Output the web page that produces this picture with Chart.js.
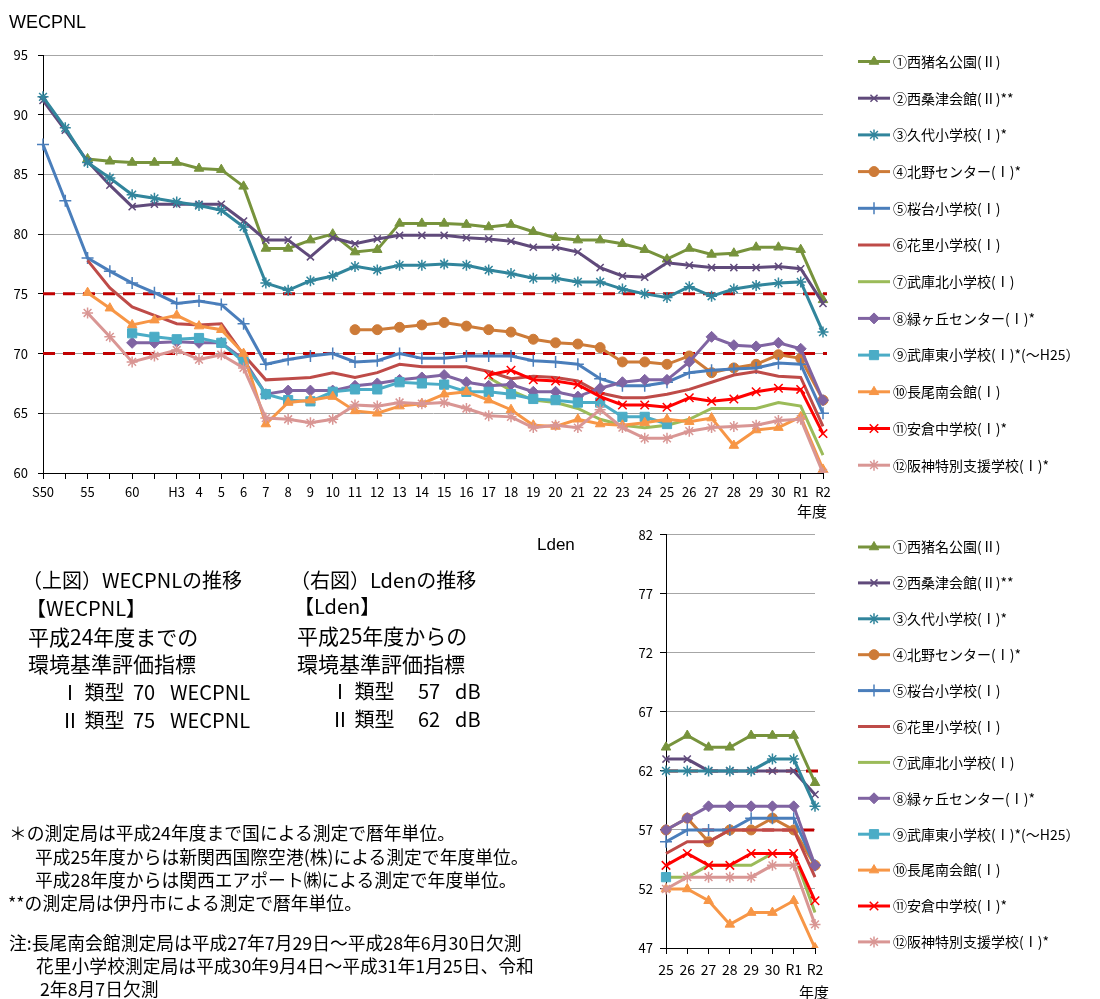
<!DOCTYPE html>
<html>
<head>
<meta charset="utf-8">
<script src="https://cdn.jsdelivr.net/npm/chart.js@4.4.0/dist/chart.umd.min.js"></script>
<style>
  body { margin: 0; background: #fff; }
  #wrap { position: relative; width: 1100px; height: 999px; overflow: hidden; font-family: 'Noto Sans CJK JP', sans-serif; color: #000; }
  canvas { position: absolute; left: 0; }
  .t { position: absolute; white-space: nowrap; line-height: 1; }
  .m { font-size: 20px; }
  .k { font-size: 21px; }
  .n { font-size: 17.8px; }
</style>
</head>
<body>
<div id="wrap">
  <canvas id="wecpnl" width="1100" height="520" style="top:0"></canvas>
  <canvas id="lden" width="1100" height="479" style="top:520px"></canvas>

  <div class="t" style="left:9px;top:13px;font-size:18px;font-family:'Liberation Sans',sans-serif">WECPNL</div>
  <div class="t" style="left:797px;top:503px;font-size:15px">年度</div>
  <div class="t" style="left:537px;top:536px;font-size:17px;font-family:'Liberation Sans',sans-serif">Lden</div>
  <div class="t" style="left:799px;top:984px;font-size:15px">年度</div>

  <div class="t m" style="left:22px;top:570px">（上図）WECPNLの推移</div>
  <div class="t m" style="left:26px;top:598px">【WECPNL】</div>
  <div class="t k" style="left:28px;top:626px">平成24年度までの</div>
  <div class="t k" style="left:28px;top:653px">環境基準評価指標</div>
  <div class="t m" style="left:60px;top:682px">Ⅰ 類型</div>
  <div class="t m" style="left:133px;top:682px">70</div>
  <div class="t m" style="left:170px;top:682px">WECPNL</div>
  <div class="t m" style="left:60px;top:710px">Ⅱ 類型</div>
  <div class="t m" style="left:133px;top:710px">75</div>
  <div class="t m" style="left:170px;top:710px">WECPNL</div>

  <div class="t m" style="left:290px;top:570px">（右図）Ldenの推移</div>
  <div class="t m" style="left:294px;top:596px">【Lden】</div>
  <div class="t k" style="left:297px;top:625px">平成25年度からの</div>
  <div class="t k" style="left:297px;top:653px">環境基準評価指標</div>
  <div class="t m" style="left:330px;top:681px">Ⅰ 類型</div>
  <div class="t m" style="left:418px;top:681px">57</div>
  <div class="t m" style="left:455px;top:681px">dB</div>
  <div class="t m" style="left:330px;top:709px">Ⅱ 類型</div>
  <div class="t m" style="left:418px;top:709px">62</div>
  <div class="t m" style="left:455px;top:709px">dB</div>

  <div class="t n" style="left:9px;top:824px">＊の測定局は平成24年度まで国による測定で暦年単位。</div>
  <div class="t n" style="left:35px;top:848px">平成25年度からは新関西国際空港(株)による測定で年度単位。</div>
  <div class="t n" style="left:35px;top:871px">平成28年度からは関西エアポート㈱による測定で年度単位。</div>
  <div class="t n" style="left:8px;top:894px">**の測定局は伊丹市による測定で暦年単位。</div>
  <div class="t n" style="left:9px;top:934px">注:長尾南会館測定局は平成27年7月29日～平成28年6月30日欠測</div>
  <div class="t n" style="left:36px;top:957px">花里小学校測定局は平成30年9月4日～平成31年1月25日、令和</div>
  <div class="t n" style="left:40px;top:980px">2年8月7日欠測</div>
</div>

<script>
const FONT = "'Noto Sans CJK JP', sans-serif"

const stations = [
  '①西猪名公園(Ⅱ)', '②西桑津会館(Ⅱ)**', '③久代小学校(Ⅰ)*', '④北野センター(Ⅰ)*',
  '⑤桜台小学校(Ⅰ)', '⑥花里小学校(Ⅰ)', '⑦武庫北小学校(Ⅰ)', '⑧緑ヶ丘センター(Ⅰ)*',
  '⑨武庫東小学校(Ⅰ)*(～H25）', '⑩長尾南会館(Ⅰ)', '⑪安倉中学校(Ⅰ)*', '⑫阪神特別支援学校(Ⅰ)*'
]

// WECPNL (S50 - R2)
const wYears = ['S50', '', '55', '', '60', '', 'H3', '4', '5', '6', '7', '8', '9', '10', '11', '12',
  '13', '14', '15', '16', '17', '18', '19', '20', '21', '22', '23', '24', '25', '26', '27', '28',
  '29', '30', 'R1', 'R2']
const _ = null
const w1 = [_, _, 86.3, 86.1, 86.0, 86.0, 86.0, 85.5, 85.4, 84.0, 78.8, 78.8, 79.5, 80.0, 78.5, 78.7, 80.9, 80.9, 80.9, 80.8, 80.6, 80.8, 80.2, 79.7, 79.5, 79.5, 79.2, 78.7, 77.9, 78.8, 78.3, 78.4, 78.9, 78.9, 78.7, 74.5]
const w2 = [91.2, 88.7, 86.1, 84.1, 82.3, 82.5, 82.5, 82.5, 82.5, 81.1, 79.5, 79.5, 78.1, 79.7, 79.2, 79.6, 79.9, 79.9, 79.9, 79.7, 79.6, 79.4, 78.9, 78.9, 78.5, 77.2, 76.5, 76.4, 77.6, 77.4, 77.2, 77.2, 77.2, 77.3, 77.1, 74.2]
const w3 = [91.5, 88.9, 86.0, 84.7, 83.3, 83.0, 82.7, 82.4, 82.0, 80.6, 75.9, 75.3, 76.1, 76.5, 77.3, 77.0, 77.4, 77.4, 77.5, 77.4, 77.0, 76.7, 76.3, 76.3, 76.0, 76.0, 75.4, 75.0, 74.7, 75.6, 74.8, 75.4, 75.7, 75.9, 76.0, 71.8]
const w4 = [_, _, _, _, _, _, _, _, _, _, _, _, _, _, 72.0, 72.0, 72.2, 72.4, 72.6, 72.3, 72.0, 71.8, 71.2, 70.9, 70.8, 70.5, 69.3, 69.3, 69.1, 69.8, 68.4, 68.8, 69.1, 69.9, 69.6, 66.1]
const w5 = [87.5, 82.8, 78.0, 76.9, 75.9, 75.1, 74.2, 74.4, 74.1, 72.5, 69.1, 69.5, 69.8, 70.0, 69.3, 69.4, 70.0, 69.6, 69.6, 69.8, 69.8, 69.8, 69.4, 69.3, 69.1, 67.9, 67.3, 67.3, 67.6, 68.4, 68.6, 68.7, 68.8, 69.2, 69.1, 65.0]
const w6 = [_, _, 77.8, 75.5, 73.9, 73.2, 72.5, 72.4, 72.5, 69.9, 67.8, 67.9, 68.0, 68.4, 68.0, 68.4, 69.1, 68.9, 68.9, 68.9, 68.5, 67.9, 68.1, 68.0, 67.7, 66.7, 66.3, 66.3, 66.6, 67.0, 67.6, 68.2, 68.5, 68.1, 68.0, 63.9]
const w7 = [_, _, _, _, _, _, _, _, _, _, _, _, _, _, _, _, _, _, _, _, 68.0, 66.9, 66.1, 65.9, 65.4, 64.5, 64.0, 63.8, 64.0, 64.5, 65.4, 65.4, 65.4, 65.9, 65.6, 61.5]
const w8 = [_, _, _, _, 70.9, 70.9, 71.0, 70.9, 70.9, 69.5, 66.6, 66.9, 66.9, 66.9, 67.3, 67.5, 67.8, 68.0, 68.2, 67.6, 67.3, 67.4, 66.8, 66.8, 66.4, 67.1, 67.6, 67.8, 67.8, 69.3, 71.4, 70.7, 70.6, 70.9, 70.4, 66.1]
const w9 = [_, _, _, _, 71.7, 71.4, 71.2, 71.3, 70.9, 69.3, 66.6, 66.1, 66.0, 66.8, 67.0, 67.0, 67.6, 67.5, 67.4, 66.8, 66.8, 66.6, 66.2, 66.1, 65.9, 65.9, 64.7, 64.7, 64.1, _, _, _, _, _, _, _]
const w10 = [_, _, 75.1, 73.8, 72.4, 72.8, 73.2, 72.3, 72.0, 70.0, 64.1, 65.9, 66.1, 66.4, 65.2, 65.0, 65.6, 65.8, 66.6, 66.8, 66.1, 65.3, 64.0, 63.9, 64.5, 64.1, 64.0, 64.2, 64.5, 64.3, 64.6, 62.3, 63.6, 63.8, 64.7, 60.3]
const w11 = [_, _, _, _, _, _, _, _, _, _, _, _, _, _, _, _, _, _, _, _, 68.2, 68.6, 67.8, 67.7, 67.4, 66.4, 65.7, 65.7, 65.5, 66.3, 66.0, 66.2, 66.8, 67.1, 67.0, 63.3]
const w12 = [_, _, 73.4, 71.4, 69.3, 69.8, 70.3, 69.5, 69.9, 68.8, 64.6, 64.5, 64.2, 64.5, 65.7, 65.6, 65.9, 65.8, 65.9, 65.4, 64.8, 64.7, 63.8, 64.0, 63.8, 65.3, 63.8, 62.9, 62.9, 63.5, 63.8, 63.9, 64.0, 64.4, 64.5, 60.0]
const wTicks = { min: 60, max: 95, step: 5 }
const wLimits = [75, 70]

// Lden (H25 - R2)
const lYears = ['25', '26', '27', '28', '29', '30', 'R1', 'R2']
const l1 = [64, 65, 64, 64, 65, 65, 65, 61]
const l2 = [63, 63, 62, 62, 62, 62, 62, 60]
const l3 = [62, 62, 62, 62, 62, 63, 63, 59]
const l4 = [57, 58, 56, 57, 57, 58, 57, 54]
const l5 = [56, 57, 57, 57, 58, 58, 58, 54]
const l6 = [55, 56, 56, 57, 57, 57, 57, 53]
const l7 = [53, 53, 54, 54, 54, 55, 55, 50]
const l8 = [57, 58, 59, 59, 59, 59, 59, 54]
const l9 = [53, _, _, _, _, _, _, _]
const l10 = [52, 52, 51, 49, 50, 50, 51, 47]
const l11 = [54, 55, 54, 54, 55, 55, 55, 51]
const l12 = [52, 53, 53, 53, 53, 54, 54, 49]
const lTicks = { min: 47, max: 82, step: 5 }
const lLimits = [62, 57]

// look of each station line
const looks = [
  { color: '#77933C', point: 'triangle', r: 5.5 },
  { color: '#604A7B', point: 'crossRot', r: 5 },
  { color: '#31859C', point: 'star', r: 5.5 },
  { color: '#CD7B38', point: 'circle', r: 5 },
  { color: '#4A7EBB', point: 'cross', r: 6 },
  { color: '#BE4B48', point: false, r: 0 },
  { color: '#9BBB59', point: false, r: 0 },
  { color: '#8064A2', point: 'rectRot', r: 5.5 },
  { color: '#4BACC6', point: 'rect', r: 6.5 },
  { color: '#F79646', point: 'triangle', r: 5.5 },
  { color: '#FF0000', point: 'crossRot', r: 6 },
  { color: '#D99694', point: 'star', r: 5.5 }
]

function makeDatasets(series) {
  return series.map((data, i) => {
    const lk = looks[i]
    const lineish = ['cross', 'crossRot', 'star'].includes(lk.point)
    return {
      label: stations[i],
      data: data,
      borderColor: lk.color,
      backgroundColor: lk.color,
      borderWidth: 3,
      tension: 0,
      pointStyle: lk.point,
      pointRadius: lk.r,
      pointBackgroundColor: lk.color,
      pointBorderColor: lk.color,
      pointBorderWidth: lineish ? 1.5 : 1,
      order: series.length - i
    }
  })
}

const sideLegend = {
  id: 'sideLegend',
  afterDraw(chart, args, opts) {
    const ctx = chart.ctx
    ctx.save()
    chart.data.datasets.forEach((ds, i) => {
      const y = opts.top + i * opts.step
      ctx.strokeStyle = ds.borderColor
      ctx.lineWidth = 3
      ctx.setLineDash([])
      ctx.beginPath()
      ctx.moveTo(858, y)
      ctx.lineTo(890, y)
      ctx.stroke()
      if (ds.pointRadius > 0) {
        ctx.fillStyle = ds.pointBackgroundColor
        ctx.strokeStyle = ds.pointBorderColor
        ctx.lineWidth = ds.pointBorderWidth
        Chart.helpers.drawPoint(ctx, {
          pointStyle: ds.pointStyle, radius: ds.pointRadius, rotation: 0, borderWidth: ds.pointBorderWidth
        }, 874, y)
      }
      ctx.fillStyle = '#000'
      ctx.font = '14px ' + FONT
      ctx.textBaseline = 'middle'
      ctx.textAlign = 'left'
      ctx.fillText(ds.label, 893, y)
    })
    ctx.restore()
  }
}

// dashed standard lines, drawn under the station lines
const limitLines = {
  id: 'limitLines',
  beforeDatasetsDraw(chart, args, opts) {
    const { ctx, scales: { x, y } } = chart
    const x0 = x.getPixelForValue(0)
    const step = x.getPixelForValue(1) - x0
    ctx.save()
    ctx.strokeStyle = '#C00000'
    ctx.lineWidth = 3
    ctx.setLineDash([12, 8])
    opts.lines.forEach(l => {
      const py = y.getPixelForValue(l.value)
      ctx.beginPath()
      ctx.moveTo(x0 + l.from * step, py)
      ctx.lineTo(x0 + l.to * step + 4, py)
      ctx.stroke()
    })
    ctx.restore()
  }
}

function makeChart(id, labels, series, tk, o) {
  return new Chart(document.getElementById(id), {
    type: 'line',
    data: { labels: labels, datasets: makeDatasets(series) },
    plugins: [limitLines, sideLegend],
    options: {
      responsive: false,
      animation: false,
      devicePixelRatio: 1,
      layout: { padding: o.padding },
      plugins: {
        legend: { display: false },
        tooltip: { enabled: false },
        sideLegend: o.legend,
        limitLines: { lines: o.lines }
      },
      scales: {
        x: {
          offset: false,
          grid: { drawOnChartArea: false, offset: false, tickLength: 6, color: '#000' },
          border: { color: '#000' },
          ticks: { autoSkip: false, maxRotation: 0, color: '#000', font: { size: o.xFont, family: FONT }, padding: o.xPad },
          afterFit(s) { s.height = o.xHeight }
        },
        y: {
          min: tk.min,
          max: tk.max,
          ticks: { stepSize: tk.step, color: '#000', font: { size: 13, family: FONT }, padding: o.yPad },
          grid: { color: '#A6A6A6', tickLength: o.yTick, tickColor: '#000' },
          border: { color: '#000' },
          afterFit(s) { s.width = o.yWidth }
        }
      }
    }
  })
}

window.addEventListener('load', () => {
  makeChart('wecpnl', wYears, [w1, w2, w3, w4, w5, w6, w7, w8, w9, w10, w11, w12], wTicks, {
    padding: { left: 0, top: 55, right: 277, bottom: 0 },
    legend: { top: 61.5, step: 36.7 },
    lines: wLimits.map(v => ({ value: v, from: 0, to: wYears.length - 1 })),
    xFont: 13, xPad: 5, xHeight: 47, yPad: 10, yTick: 5, yWidth: 43
  })
  makeChart('lden', lYears, [l1, l2, l3, l4, l5, l6, l7, l8, l9, l10, l11, l12], lTicks, {
    padding: { left: 600, top: 14, right: 285, bottom: 0 },
    legend: { top: 27, step: 35.9 },
    lines: [
      { value: lLimits[0], from: 0, to: lYears.length - 1 },
      { value: lLimits[1], from: 1.7, to: lYears.length - 1 }
    ],
    xFont: 14, xPad: 7, xHeight: 51, yPad: 7, yTick: 6, yWidth: 66
  })
})
</script>
</body>
</html>
